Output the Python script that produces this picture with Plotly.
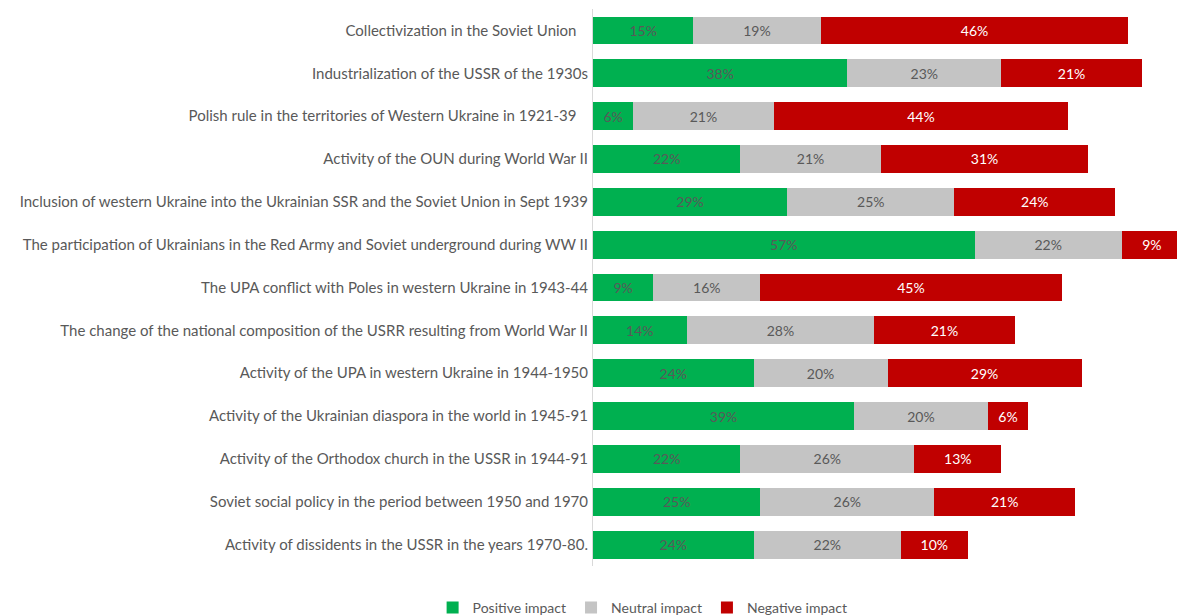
import plotly.graph_objects as go

categories = [
    "Collectivization in the Soviet Union\u00a0\u00a0\u00a0",
    "Industrialization of the USSR of the 1930s",
    "Polish rule in the territories of Western Ukraine in 1921-39\u00a0\u00a0\u00a0",
    "Activity of the OUN during World War II",
    "Inclusion of western Ukraine into the Ukrainian SSR and the Soviet Union in Sept 1939",
    "The participation of Ukrainians in the Red Army and Soviet underground during WW II",
    "The UPA conflict with Poles in western Ukraine in 1943-44",
    "The change of the national composition of the USRR resulting from World War II",
    "Activity of the UPA in western Ukraine in 1944-1950",
    "Activity of the Ukrainian diaspora in the world in 1945-91",
    "Activity of the Orthodox church in the USSR in 1944-91",
    "Soviet social policy in the period between 1950 and 1970",
    "Activity of dissidents in the USSR in the years 1970-80.",
]
positive = [15, 38, 6, 22, 29, 57, 9, 14, 24, 39, 22, 25, 24]
neutral = [19, 23, 21, 21, 25, 22, 16, 28, 20, 20, 26, 26, 22]
negative = [46, 21, 44, 31, 24, 9, 45, 21, 29, 6, 13, 21, 10]

series = [
    ("Positive impact", positive, "#00B050", "#595959"),
    ("Neutral impact", neutral, "#C4C4C4", "#595959"),
    ("Negative impact", negative, "#C00000", "#FFFFFF"),
]

FONT = "Lato"
fig = go.Figure()
for name, vals, color, tcolor in series:
    fig.add_trace(go.Bar(
        y=categories, x=vals, name=name, orientation="h",
        marker=dict(color=color, line=dict(width=0)),
        text=[f"{v}%" for v in vals], textposition="inside",
        insidetextanchor="middle", constraintext="none",
        textfont=dict(family=FONT, size=14, color=tcolor),
        cliponaxis=False,
    ))

fig.update_layout(
    barmode="stack",
    bargap=0.35,
    width=1182, height=616,
    margin=dict(l=593, r=0, t=9, b=50),
    plot_bgcolor="white", paper_bgcolor="white",
    font=dict(family=FONT, color="#595959"),
    uniformtext=dict(minsize=8, mode="show"),
    xaxis=dict(range=[0, 88], visible=False, showgrid=False),
    yaxis=dict(autorange="reversed", showgrid=False, showline=True,
               linecolor="#D9D9D9", linewidth=1, ticks="",
               tickfont=dict(family=FONT, size=15, color="#595959"),
               ticklabelstandoff=1),
    legend=dict(orientation="h", xref="container", yref="container",
                x=0.366, y=0.013, xanchor="left", yanchor="middle",
                font=dict(family=FONT, size=14, color="#595959"),
                itemwidth=30, traceorder="normal"),
)

fig.write_html("out.html", config={"displayModeBar": False},
               post_script="document.body.style.margin='0';document.body.style.overflow='hidden';")
